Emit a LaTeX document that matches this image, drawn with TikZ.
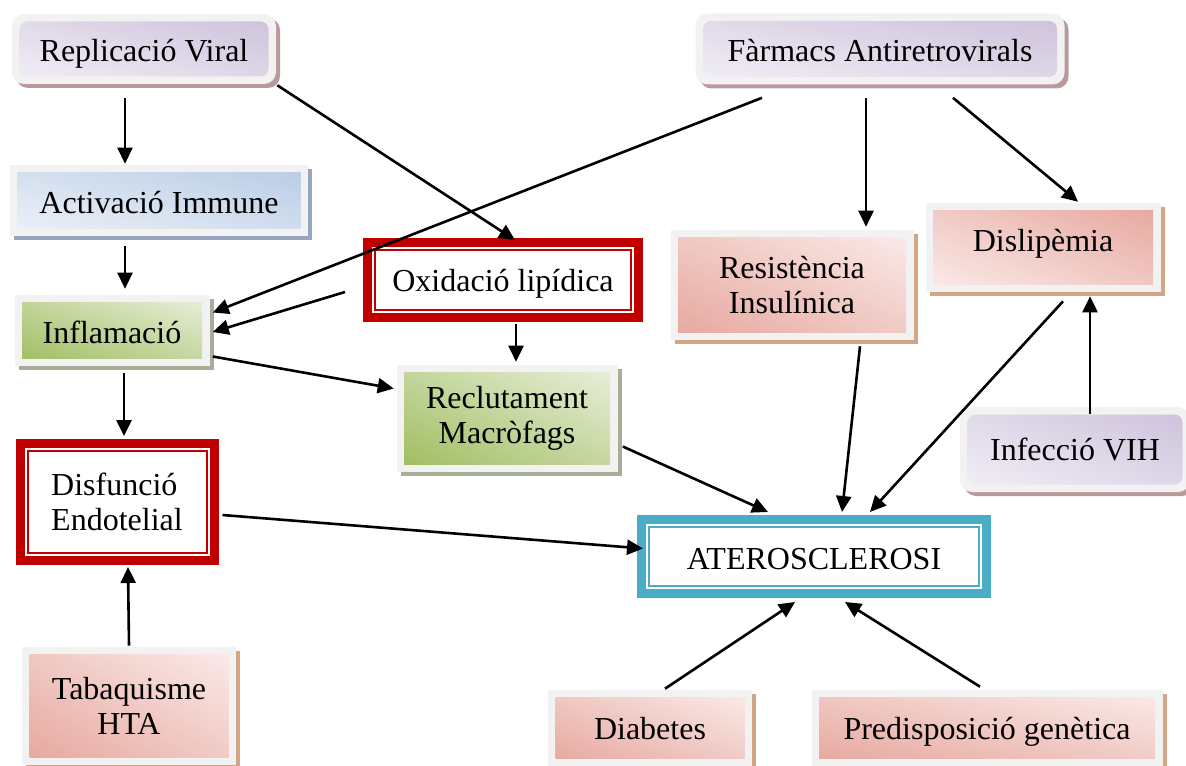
\documentclass[tikz,border=0pt]{standalone}
\usepackage{fontspec}
\setmainfont{Liberation Serif}
\usetikzlibrary{arrows.meta,shadows,shadings}

\definecolor{marc}{HTML}{F2F2F2}
\definecolor{lilafosc}{HTML}{CCC0DA}
\definecolor{lilaclar}{HTML}{F3F0F7}
\definecolor{ombralila}{HTML}{B8999C}
\definecolor{rosafosc}{HTML}{E6A59C}
\definecolor{rosaclar}{HTML}{FBEDEB}
\definecolor{ombrarosa}{HTML}{D3A585}
\definecolor{blaufosc}{HTML}{B7CBE4}
\definecolor{blauclar}{HTML}{EEF2F8}
\definecolor{ombrablau}{HTML}{97A6BF}
\definecolor{verdfosc}{HTML}{9CBB5B}
\definecolor{verdclar}{HTML}{EBF1DF}
\definecolor{ombraverd}{HTML}{A7AD97}
\definecolor{vermell}{HTML}{C00000}
\definecolor{cel}{HTML}{4BACC6}

\begin{document}
\begin{tikzpicture}[
  x=0.5pt, y=-0.5pt,
  >={Triangle[length=8pt,width=7.5pt]}, line width=1.3pt,
  every node/.style={font=\fontsize{16}{17.5}\selectfont,align=center,inner sep=0pt},
  una/.style={text height=12.5pt,text depth=0pt},
  caixa/.style n args={4}{fill=marc,draw=none,
    drop shadow={shadow xshift=2pt,shadow yshift=-2pt,opacity=1,fill=#3},
    path picture={\shade[#4,lower left=#1,upper right=#2,upper left=#1!50!#2,lower right=#1!50!#2]
      ([shift={(3.75pt,3.75pt)}]path picture bounding box.south west) rectangle
      ([shift={(-3.75pt,-3.75pt)}]path picture bounding box.north east);}},
  lila/.style={caixa={lilaclar}{lilafosc}{ombralila}{rounded corners=4pt},rounded corners=6pt},
  rosa/.style={caixa={rosafosc}{rosaclar}{ombrarosa}{sharp corners}},
  rosainv/.style={caixa={rosaclar}{rosafosc}{ombrarosa}{sharp corners}},
  blau/.style={caixa={blauclar}{blaufosc}{ombrablau}{sharp corners}},
  verd/.style={caixa={verdfosc}{verdclar}{ombraverd}{sharp corners}},
  doble/.style={draw=#1,line width=4.5pt,fill=white,
    path picture={\draw[#1,line width=1pt]
      ([shift={(3.75pt,3.75pt)}]path picture bounding box.south west) rectangle
      ([shift={(-3.75pt,-3.75pt)}]path picture bounding box.north east);}},
  fl/.style={->}
]
  \useasboundingbox (0,0) rectangle (1186,765);
  % caixes
  \node[lila,una,minimum width=132pt,minimum height=35pt] (rep) at (144,49) {Replicació Viral};
  \node[lila,una,minimum width=184.5pt,minimum height=35.5pt] (far) at (880,49) {Fàrmacs Antiretrovirals};
  \node[blau,una,minimum width=149pt,minimum height=35.5pt] (act) at (159,200.5) {Activació Immune};
  \node[verd,una,minimum width=97.5pt,minimum height=35.5pt] (inf) at (112,330.5) {Inflamació};
  \node[doble=vermell,una,text height=11.5pt,minimum width=135.5pt,minimum height=37.5pt] (oxi) at (503,280) {Oxidació lipídica};
  \node[verd,minimum width=110.5pt,minimum height=53.5pt] (rec) at (507,418.5) {Reclutament\\Macròfags};
  \node[rosa,minimum width=121.5pt,minimum height=55pt] (res) at (792,285) {Resistència\\Insulínica};
  \node[rosainv,text height=12.5pt,text depth=8.5pt,minimum width=117.5pt,minimum height=44.5pt] (dis) at (1043,247.5) {Dislipèmia};
  \node[lila,una,text height=10.5pt,minimum width=115pt,minimum height=42.5pt] (vih) at (1075,449.5) {Infecció VIH};
  \node[doble=vermell,minimum width=97pt,minimum height=58.5pt,align=left] (dfe) at (117,502) {Disfunció\\Endotelial};
  \node[doble=cel,una,minimum width=172.5pt,minimum height=37pt] (ate) at (814,556.5) {ATEROSCLEROSI};
  \node[rosa,minimum width=107pt,minimum height=59pt] (tab) at (129,706) {Tabaquisme\\HTA};
  \node[rosa,una,text height=11pt,minimum width=102pt,minimum height=38pt] (dia) at (650,728) {Diabetes};
  \node[rosa,una,text height=11pt,minimum width=175.5pt,minimum height=38pt] (pre) at (987,728) {Predisposició genètica};
  % fletxes
  \draw[fl] ([xshift=-9.5pt,yshift=-6.5pt]rep.south) -- ([xshift=-17pt]act.north);
  \draw[fl] (rep.south east) -- ([xshift=6pt,yshift=-1pt]oxi.north);
  \draw[fl] ([xshift=-17pt,yshift=-4.5pt]act.south) -- ([xshift=6.5pt,yshift=2.5pt]inf.north);
  \draw[fl] ([xshift=-59pt,yshift=-6pt]far.south) -- ([xshift=1pt,yshift=9pt]inf.east);
  \draw[fl] ([xshift=-9pt,yshift=-6pt]oxi.west) -- ([xshift=1pt,yshift=-0.75pt]inf.east);
  \draw[fl] ([xshift=1pt,yshift=-13pt]inf.east) -- ([xshift=-0.75pt,yshift=15pt]rec.west);
  \draw[fl] ([xshift=6pt,yshift=-3pt]inf.south) -- ([xshift=3.5pt,yshift=1.5pt]dfe.north);
  \draw[fl] ([xshift=6.5pt,yshift=-1pt]oxi.south) -- ([xshift=4.5pt,yshift=1pt]rec.north);
  \draw[fl] ([xshift=-7pt,yshift=-6pt]far.south) -- ([xshift=37pt,yshift=1pt]res.north);
  \draw[fl] ([xshift=36.5pt,yshift=-6pt]far.south) -- ([xshift=17.5pt]dis.north);
  \draw[fl] ([xshift=7.5pt,yshift=-4pt]vih.north) -- ([xshift=23.5pt,yshift=-1.5pt]dis.south);
  \draw[fl] ([xshift=10pt,yshift=-4pt]dis.south) -- ([xshift=28pt,yshift=1.5pt]ate.north);
  \draw[fl] ([xshift=34pt,yshift=-2.5pt]res.south) -- ([xshift=14pt,yshift=1.5pt]ate.north);
  \draw[fl] ([xshift=2pt,yshift=-14pt]rec.east) -- ([xshift=-23pt,yshift=1.5pt]ate.north);
  \draw[fl] ([xshift=2pt,yshift=-6.5pt]dfe.east) -- ([xshift=3pt,yshift=4pt]ate.west);
  \draw[fl] (tab.north) -- ([xshift=5.5pt,yshift=-1pt]dfe.south);
  \draw[fl] ([xshift=7.5pt]dia.north) -- ([xshift=-9.5pt,yshift=-2pt]ate.south);
  \draw[fl] ([xshift=-3.5pt,yshift=1pt]pre.north) -- ([xshift=15.5pt,yshift=-2pt]ate.south);
\end{tikzpicture}
\end{document}
